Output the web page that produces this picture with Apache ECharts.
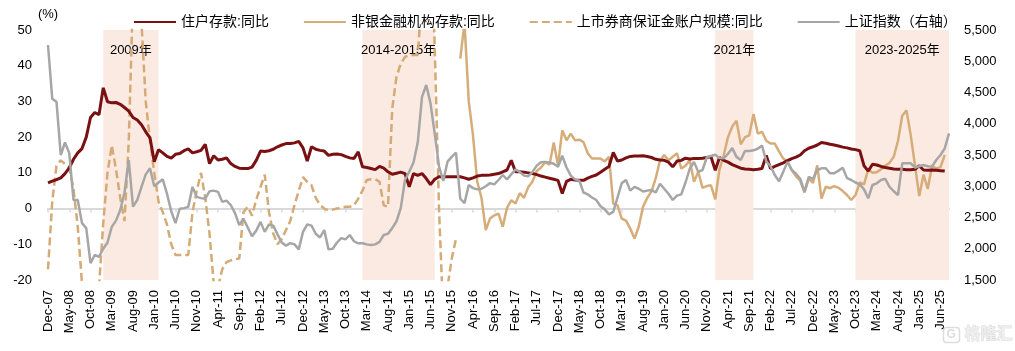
<!DOCTYPE html>
<html>
<head>
<meta charset="utf-8">
<script src="https://cdn.jsdelivr.net/npm/echarts@6/dist/echarts.min.js"></script>
<style>
  html, body { margin: 0; padding: 0; background: #fff; }
  #chart { width: 1015px; height: 351px; }
</style>
</head>
<body>
<div id="chart"></div>
<script>
// monthly categories Dec-07 ... Aug-25
const monthNames = ['Jan', 'Feb', 'Mar', 'Apr', 'May', 'Jun', 'Jul', 'Aug', 'Sep', 'Oct', 'Nov', 'Dec']
const months = []
for (let k = 0; k < 213; k++) {
  const m = (11 + k) % 12
  const y = 7 + Math.floor((11 + k) / 12)
  months.push(monthNames[m] + '-' + String(y).padStart(2, '0'))
}

const seriesNames = ['住户存款:同比', '非银金融机构存款:同比', '上市券商保证金账户规模:同比', '上证指数（右轴）']

// 住户存款:同比 (%), Dec-07 ~ Jul-25
const householdDeposit = [
  7.2, 7.7, 8.1, 8.6, 9.8, 11.4, 13.8, 15.6, 16.8, 20.0,
  25.5, 26.9, 26.3, 33.8, 29.9, 29.6, 29.7, 29.2, 28.3, 27.3,
  25.5, 24.8, 23.5, 21.5, 19.8, 13.1, 16.5, 15.6, 14.6, 14.1,
  15.2, 15.4, 16.2, 16.7, 15.6, 15.9, 16.3, 18.0, 12.6, 14.8,
  13.6, 13.8, 14.2, 12.6, 11.8, 11.3, 11.2, 11.2, 11.6, 13.5,
  16.1, 16.0, 16.2, 16.6, 17.3, 17.8, 18.2, 18.2, 18.4, 18.8,
  17.0, 13.3, 17.3, 16.6, 16.3, 16.1, 14.9, 15.2, 15.3, 15.1,
  14.6, 14.2, 14.0, 15.9, 11.7, 11.5, 11.2, 10.9, 11.8, 11.3,
  10.3, 9.6, 9.9, 10.2, 9.8, 6.1, 9.8, 9.3, 9.8, 8.4,
  6.7, 8.2, 8.9, 8.9, 8.9, 8.9, 8.9, 8.9, 8.6, 8.2,
  8.6, 9.1, 9.3, 9.3, 9.4, 9.6, 9.8, 10.3, 10.8, 13.5,
  10.3, 10.3, 10.2, 10.0, 9.8, 9.5, 9.1, 8.8, 8.5, 8.2,
  7.9, 4.2, 7.6, 8.2, 8.0, 7.9, 7.9, 8.5, 9.0, 9.4,
  10.2, 11.0, 11.8, 15.7, 13.3, 13.6, 14.2, 14.6, 14.7, 14.7,
  14.8, 14.6, 14.3, 13.8, 13.6, 13.5, 13.0, 11.7, 13.3, 13.5,
  14.1, 13.9, 14.0, 14.0, 14.1, 14.3, 14.5, 10.7, 14.3, 13.5,
  13.0, 12.3, 11.8, 11.3, 11.1, 11.0, 10.9, 11.0, 11.2, 14.9,
  11.2, 11.8, 12.3, 12.8, 13.4, 14.0, 14.4, 15.0, 16.2, 16.9,
  17.3, 17.8, 18.5, 18.3, 18.0, 17.8, 17.5, 17.2, 17.0, 16.7,
  16.5, 16.2, 12.0, 10.5, 12.4, 12.2, 11.8, 11.5, 11.3, 11.1,
  11.0, 11.0, 10.9, 10.9, 11.0, 12.0, 10.8, 10.7, 10.8, 10.7,
  10.6, 10.5
]

// 非银金融机构存款:同比 (%), Jan-16 ~ Jul-25
const nonBankStart = 'Jan-16'
const nonBankDeposit = [
  42.0, 52.0, 30.0, 20.5, 7.5, 3.0, -6.0, -2.8, -1.9, -1.4,
  -5.1, 0.2, 2.3, 1.4, 4.3, 3.0, 6.0, 7.6, 10.5, 11.5,
  13.0, 12.3, 18.5, 12.1, 21.9, 19.1, 21.0, 19.1, 19.3, 18.6,
  15.5, 14.0, 14.0, 14.0, 13.2, 14.5, 1.4, 0.9, -2.8, -3.4,
  -5.6, -8.4, -5.1, 0.5, 3.0, 4.8, 8.5, 13.5, 15.0, 13.5,
  14.5, 15.5, 11.2, 12.0, 13.5, 7.5, 10.3, 5.8, 6.3, 6.5,
  2.6, 11.0, 15.0, 20.0, 23.0, 24.6, 18.0, 20.0, 20.5, 26.5,
  21.0, 21.5, 19.0, 18.2, 18.2, 16.0, 14.0, 13.2, 10.8, 9.0,
  7.8, 4.5, 8.4, 7.2, 12.1, 2.8, 6.1, 5.7, 6.3, 5.8,
  4.9, 3.8, 2.4, 3.8, 7.3, 6.8, 11.0, 10.0, 10.2, 11.0,
  12.0, 12.8, 14.5, 19.0, 26.0, 27.5, 20.5, 12.1, 3.5, 9.5,
  5.5, 12.0, 11.2, 11.6, 15.0
]

// 上市券商保证金账户规模:同比 (%), Dec-07 ~ Dec-15
const marginAccount = [
  -17, 2, 12, 13.5, 12.5, 11.5, 5.5, -5, -21, -35,
  -40, -30, -22, -4, 10, 17.7, 11, 3, -3.5, 18.7,
  60, 75, 52, 30, 19, 10, 2, -1, -4.5, -10,
  -13, -13, -13, -13, -1, 5, 10, 3, -7, -21,
  -22, -17, -15, -14.5, -14.2, -14, -1, 0.5, -2, 2.5,
  6, 9.5, -1, -7, -10, -8.5, -6, -3.5, 1, 5,
  8.8, 7.5, 6.5, 3, 1, 0, -0.5, -0.3, 0, 0.2,
  0.5, 0.5, 0.9, 2.8, 5.0, 8.0, 8.2, 8.2, 7.5, 0.9,
  0.5, 28, 37, 40.5, 42.5, 42.8, 43, 43, 60, 90,
  80, 45, 0, -30, -22, -14, -8.4
]

// 上证指数 (右轴), Dec-07 ~ Aug-25
const shIndex = [
  5260, 4400, 4350, 3500, 3700, 3530, 2780, 2780, 2410, 2330,
  1770, 1900, 1870, 2000, 2100, 2350, 2450, 2620, 2900, 3420,
  2673, 2780, 2990, 3190, 3287, 3000, 3060, 3110, 2880, 2600,
  2410, 2640, 2650, 2670, 2990, 2830, 2810, 2800, 2920, 2930,
  2910, 2750, 2770, 2700, 2570, 2380, 2480, 2340, 2200, 2290,
  2430, 2270, 2390, 2370, 2230, 2100, 2050, 2090, 2070, 1990,
  2270, 2390, 2370, 2240, 2180, 2300, 1990, 2000, 2100, 2170,
  2150, 2220, 2120, 2087, 2087, 2070, 2060, 2070, 2110, 2220,
  2240, 2330, 2440, 2650, 3100, 3233, 3380, 3700, 4430, 4620,
  4327, 3840, 3320, 3084, 3393, 3470, 3540, 2800, 2730, 3020,
  2970, 2950, 2960, 3000, 3050, 3030, 3100, 3180, 3110, 3190,
  3270, 3230, 3170, 3160, 3230, 3330, 3385, 3390, 3380, 3360,
  3313, 3489, 3300, 3170, 3110, 3090, 2900, 2870, 2820, 2780,
  2680, 2630, 2550, 2590, 2820, 3050, 3100, 2930, 2990, 2960,
  2915, 2930, 2940, 2900, 3040, 2960, 2880, 2780, 2850, 2870,
  3060, 3280, 3390, 3230, 3260, 3460, 3485, 3505, 3450, 3447,
  3520, 3610, 3470, 3420, 3564, 3564, 3575, 3600, 3650, 3400,
  3320, 3180, 3080, 3230, 3390, 3260, 3200, 3120, 2910, 3150,
  3116, 3260, 3287, 3287, 3207, 3207, 3250, 3297, 3130, 3100,
  3060, 3030, 2950, 2807, 3020, 3047, 3100, 3120, 2990, 2920,
  2860, 3367, 3367, 3367, 3300, 3320, 3340, 3320, 3313, 3420,
  3500, 3607, 3847
]

// shaded periods
const periods = [
  { name: '2009年', from: 'Jan-09', to: 'Feb-10' },
  { name: '2014-2015年', from: 'Feb-14', to: 'Jul-15' },
  { name: '2021年', from: 'Jan-21', to: 'Oct-21' },
  { name: '2023-2025年', from: 'Oct-23', to: 'Aug-25' }
]

const leftTicks = { min: -20, max: 50, interval: 10 }
const rightTicks = { min: 1500, max: 5500, interval: 500 }

const FONT = "'Liberation Sans', 'Noto Sans CJK SC', sans-serif"
const COLORS = {
  household: '#7A1012',
  nonBank: '#D6AD79',
  margin: '#D4AA76',
  index: '#A6A6A6',
  shade: '#FBEAE2',
  axis: '#D9D9D9'
}

const nonBankSeries = Array(months.indexOf(nonBankStart)).fill(null).concat(nonBankDeposit)

function buildOption() {
  return {
    animation: false,
    textStyle: { fontFamily: FONT },
    legend: {
      data: seriesNames,
      left: 128,
      top: 10,
      itemWidth: 42,
      itemHeight: 12,
      itemGap: 34,
      // line-only legend icons (hide the default middle marker)
      itemStyle: { opacity: 0 },
      textStyle: { fontSize: 14, color: '#000', fontFamily: FONT }
    },
    grid: { left: 48, right: 66, top: 30, bottom: 71 },
    xAxis: [
      {
        type: 'category',
        data: months,
        boundaryGap: false,
        axisLine: { onZero: true, onZeroAxisIndex: 0, lineStyle: { color: COLORS.axis, width: 2 } },
        axisTick: { show: true, interval: 4, length: 4, lineStyle: { color: COLORS.axis, width: 1.5 } },
        axisLabel: { show: false },
        splitLine: { show: false }
      },
      {
        type: 'category',
        data: months,
        boundaryGap: false,
        position: 'bottom',
        axisLine: { show: false, onZero: false },
        axisTick: { show: false },
        axisLabel: { interval: 4, rotate: 90, margin: 10, fontSize: 13, color: '#000', fontFamily: FONT },
        splitLine: { show: false }
      }
    ],
    yAxis: [
      {
        type: 'value',
        ...leftTicks,
        name: '(%)',
        nameGap: 9,
        nameTextStyle: { fontSize: 13, color: '#000', fontFamily: FONT },
        axisLine: { show: false },
        axisTick: { show: false },
        splitLine: { show: false },
        axisLabel: { fontSize: 13, color: '#000', margin: 16, fontFamily: FONT }
      },
      {
        type: 'value',
        ...rightTicks,
        position: 'right',
        axisLine: { show: false },
        axisTick: { show: false },
        splitLine: { show: false },
        axisLabel: {
          fontSize: 13,
          color: '#000',
          margin: 15,
          fontFamily: FONT,
          formatter: (v) => v.toLocaleString('en-US')
        }
      }
    ],
    series: [
      {
        name: seriesNames[0],
        type: 'line',
        data: householdDeposit,
        symbol: 'none',
        z: 4,
        lineStyle: { color: COLORS.household, width: 3 },
        itemStyle: { color: COLORS.household },
        markArea: {
          silent: true,
          itemStyle: { color: COLORS.shade },
          label: {
            position: 'insideTop',
            distance: 14,
            fontSize: 13,
            color: '#000',
            fontFamily: FONT
          },
          data: periods.map((p) => [{ name: p.name, xAxis: p.from }, { xAxis: p.to }])
        }
      },
      {
        name: seriesNames[1],
        type: 'line',
        data: nonBankSeries,
        symbol: 'none',
        z: 3,
        lineStyle: { color: COLORS.nonBank, width: 2.5 },
        itemStyle: { color: COLORS.nonBank }
      },
      {
        name: seriesNames[2],
        type: 'line',
        data: marginAccount,
        symbol: 'none',
        z: 3,
        lineStyle: { color: COLORS.margin, width: 2.5, type: [8, 4] },
        itemStyle: { color: COLORS.margin }
      },
      {
        name: seriesNames[3],
        type: 'line',
        yAxisIndex: 1,
        data: shIndex,
        symbol: 'none',
        z: 5,
        lineStyle: { color: COLORS.index, width: 2.5 },
        itemStyle: { color: COLORS.index }
      }
    ],
    graphic: [
      {
        type: 'group',
        left: 941,
        top: 325,
        silent: true,
        children: [
          {
            type: 'rect',
            shape: { x: 0, y: 1, width: 16, height: 15, r: 3 },
            style: { fill: 'none', stroke: '#DDDDDD', lineWidth: 1.5 }
          },
          {
            type: 'text',
            x: 3,
            y: 2,
            style: { text: 'G', fill: '#DDDDDD', font: 'bold 12px ' + FONT }
          },
          {
            type: 'text',
            x: 21,
            y: 0,
            style: { text: '格隆汇', fill: '#EFEFEF', stroke: '#D6D6D6', lineWidth: 0.8, font: 'bold 16px ' + FONT }
          }
        ]
      }
    ]
  }
}

const chart = echarts.init(document.getElementById('chart'))
chart.setOption(buildOption())
window.addEventListener('resize', () => chart.resize())
</script>
</body>
</html>
